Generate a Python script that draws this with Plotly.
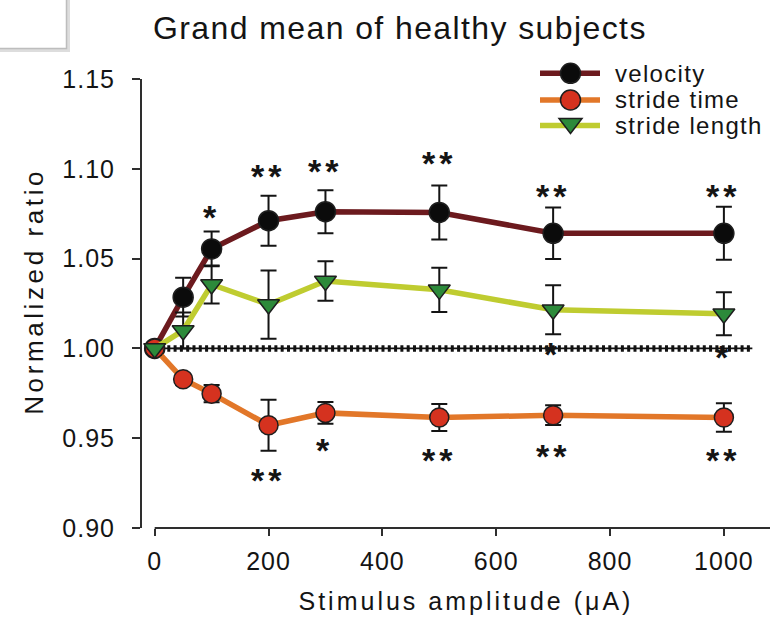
import json
import plotly.graph_objects as go

# Stimulus amplitudes (uA) and normalized gait parameters (mean +/- SEM)
amplitude = [0, 50, 100, 200, 300, 500, 700, 1000]

velocity = [1.000, 1.0285, 1.0554, 1.0711, 1.0761, 1.0757, 1.0641, 1.0641]
velocity_err = [0.0, 0.0108, 0.0097, 0.0139, 0.0120, 0.0150, 0.0143, 0.0148]

stride_time = [1.000, 0.9828, 0.9748, 0.9572, 0.9641, 0.9615, 0.9628, 0.9615]
stride_time_err = [0.0, 0.0030, 0.0048, 0.0142, 0.0060, 0.0075, 0.0055, 0.0079]

stride_length = [1.000, 1.0100, 1.0356, 1.0244, 1.0375, 1.0326, 1.0215, 1.0193]
stride_length_err = [0.0, 0.0100, 0.0106, 0.0190, 0.0110, 0.0123, 0.0136, 0.0120]

# Significance marks: amplitude, label, vertical position of the mark
velocity_sig_x = [100, 200, 300, 500, 700, 1000]
velocity_sig = ["*", "**", "**", "**", "**", "**"]
velocity_sig_y = [1.0748, 1.0974, 1.1004, 1.1048, 1.0868, 1.0868]

stride_time_sig_x = [200, 300, 500, 700, 1000]
stride_time_sig = ["**", "*", "**", "**", "**"]
stride_time_sig_y = [0.9285, 0.9452, 0.9396, 0.9418, 0.9396]

stride_length_sig_x = [700, 1000]
stride_length_sig = ["*", "*"]
stride_length_sig_y = [0.9983, 0.9967]

# Baseline reference (ratio = 1)
baseline_x = [0, 1050]
baseline_y = [1.0, 1.0]

x_ticks = [0, 200, 400, 600, 800, 1000]
x_range = [-22.3, 1081]
y_range = [0.90, 1.15]

title_text = "Grand mean of healthy subjects"
x_title = "Stimulus amplitude (\u03bcA)"
y_title = "Normalized ratio"
series_names = ["velocity", "stride time", "stride length"]

# Styling
FONT = "Liberation Sans, Arial, sans-serif"
INK = "#141414"
AXIS = "#2e2e2e"
VEL_LINE, VEL_MARK = "#6c1a1e", "#0b0b0b"
ST_LINE, ST_MARK = "#e27729", "#d5321f"
SL_LINE, SL_MARK = "#bfcc30", "#2c8a3a"

W, H = 774, 626
ML, MR, MT, MB = 142, 4, 79, 98
PW, PH = W - ML - MR, H - MT - MB


def xp(px):
    return (px - ML) / PW


def yp(py):
    return (H - MB - py) / PH


fig = go.Figure()

# dotted reference line at 1.0
fig.add_trace(go.Scatter(x=baseline_x, y=baseline_y, mode="lines",
                         line=dict(color="#111111", width=1.8),
                         hoverinfo="skip", showlegend=False))
fig.add_trace(go.Scatter(x=baseline_x, y=baseline_y, mode="lines",
                         line=dict(color="#111111", width=6.5, dash="3px,3.3px"),
                         hoverinfo="skip", showlegend=False))


def series(y, err, line_color, mark_color, symbol, size, name):
    fig.add_trace(go.Scatter(
        x=amplitude, y=y, name=name, mode="lines+markers",
        line=dict(color=line_color, width=5.5),
        marker=dict(color=mark_color, symbol=symbol, size=size,
                    line=dict(color="#1e1e1e", width=1.5)),
        error_y=dict(type="data", array=err, visible=True,
                     color="#141414", thickness=2, width=8),
        showlegend=False,
    ))


series(velocity, velocity_err, VEL_LINE, VEL_MARK, "circle", 20, series_names[0])
series(stride_time, stride_time_err, ST_LINE, ST_MARK, "circle", 19, series_names[1])
series(stride_length, stride_length_err, SL_LINE, SL_MARK, "triangle-down", 19, series_names[2])

annotations = []
spacing = []


def note(spc, **kw):
    annotations.append(kw)
    spacing.append(spc)


# significance asterisks
STAR = dict(family=FONT, size=34, color=INK, weight="bold")
for xs, labels, ys in [(velocity_sig_x, velocity_sig, velocity_sig_y),
                       (stride_time_sig_x, stride_time_sig, stride_time_sig_y),
                       (stride_length_sig_x, stride_length_sig, stride_length_sig_y)]:
    for x, lab, y in zip(xs, labels, ys):
        note(4, x=x, y=y, xref="x", yref="y", text=lab, showarrow=False,
             font=STAR, xanchor="center", yanchor="middle", yshift=-3)

# titles
note(1.4, x=xp(400), y=yp(27.5), xref="paper", yref="paper", text=title_text,
     showarrow=False, font=dict(family=FONT, size=32, color=INK),
     xanchor="center", yanchor="middle")
note(3.0, x=xp(466), y=yp(601), xref="paper", yref="paper", text=x_title,
     showarrow=False, font=dict(family=FONT, size=25, color=INK),
     xanchor="center", yanchor="middle")
note(3.6, x=xp(34), y=yp(292), xref="paper", yref="paper", text=y_title,
     showarrow=False, textangle=-90, font=dict(family=FONT, size=26, color=INK),
     xanchor="center", yanchor="middle")

# legend
shapes = []
legend_rows = [73.3, 100.0, 125.5]
legend_styles = [(VEL_LINE, VEL_MARK, "circle"),
                 (ST_LINE, ST_MARK, "circle"),
                 (SL_LINE, SL_MARK, "triangle")]
for name, row, (lc, mc, kind) in zip(series_names, legend_rows, legend_styles):
    shapes.append(dict(type="line", xref="paper", yref="paper",
                       x0=xp(540), x1=xp(600), y0=yp(row), y1=yp(row),
                       line=dict(color=lc, width=5.5)))
    cx = 570.5
    if kind == "circle":
        shapes.append(dict(type="circle", xref="paper", yref="paper",
                           x0=xp(cx - 10), x1=xp(cx + 10),
                           y0=yp(row + 10), y1=yp(row - 10),
                           fillcolor=mc, line=dict(color="#1e1e1e", width=1.5)))
    else:
        cy = row - 2
        path = "M{},{} L{},{} L{},{} Z".format(
            xp(cx - 11.5), yp(cy - 5), xp(cx + 11.5), yp(cy - 5), xp(cx), yp(cy + 10))
        shapes.append(dict(type="path", xref="paper", yref="paper", path=path,
                           fillcolor=mc, line=dict(color="#1e1e1e", width=1.5)))
    note(1.3, x=xp(613), y=yp(row), xref="paper", yref="paper", text=name,
         showarrow=False, font=dict(family=FONT, size=24, color=INK),
         xanchor="left", yanchor="middle", align="left")

# x axis line starting at 0, offset from the y axis
shapes.append(dict(type="line", xref="x", yref="paper", x0=0, x1=x_range[1],
                   y0=0, y1=0, line=dict(color=AXIS, width=2)))

# corner panel
shapes.append(dict(type="rect", xref="paper", yref="paper",
                   x0=xp(-10), x1=xp(68.5), y0=yp(-10), y1=yp(50.5),
                   fillcolor="#ffffff", line=dict(color="#dddddd", width=3)))
shapes.append(dict(type="rect", xref="paper", yref="paper",
                   x0=xp(-10), x1=xp(66.5), y0=yp(-10), y1=yp(48.5),
                   fillcolor="#ffffff", line=dict(color="#bdbdbd", width=1.5)))

fig.update_layout(
    width=W, height=H,
    margin=dict(l=ML, r=MR, t=MT, b=MB),
    paper_bgcolor="white", plot_bgcolor="white",
    showlegend=False,
    annotations=annotations,
    shapes=shapes,
    xaxis=dict(range=x_range, tickvals=x_ticks, ticks="outside", ticklen=7,
               tickwidth=2, tickcolor=AXIS, showline=False, showgrid=False,
               zeroline=False, tickfont=dict(family=FONT, size=25, color=INK),
               ticklabelstandoff=4),
    yaxis=dict(range=y_range, dtick=0.05, tick0=0.9, tickformat=".2f",
               ticks="outside", ticklen=8, tickwidth=2, tickcolor=AXIS,
               showline=True, linewidth=2, linecolor=AXIS, showgrid=False,
               zeroline=False, tickfont=dict(family=FONT, size=25, color=INK),
               ticklabelstandoff=12),
)

post = """
var gd = document.getElementById('{plot_id}');
var sp = %s;
gd.querySelectorAll('g.annotation').forEach(function(g){
  var i = +g.getAttribute('data-index');
  var t = g.querySelector('text');
  if (t && sp[i]) { t.style.letterSpacing = sp[i] + 'px'; }
});
gd.querySelectorAll('.xtick text, .ytick text').forEach(function(t){
  t.style.letterSpacing = '1px';
});
""" % json.dumps(spacing)

fig.write_html("out.html", post_script=post)
